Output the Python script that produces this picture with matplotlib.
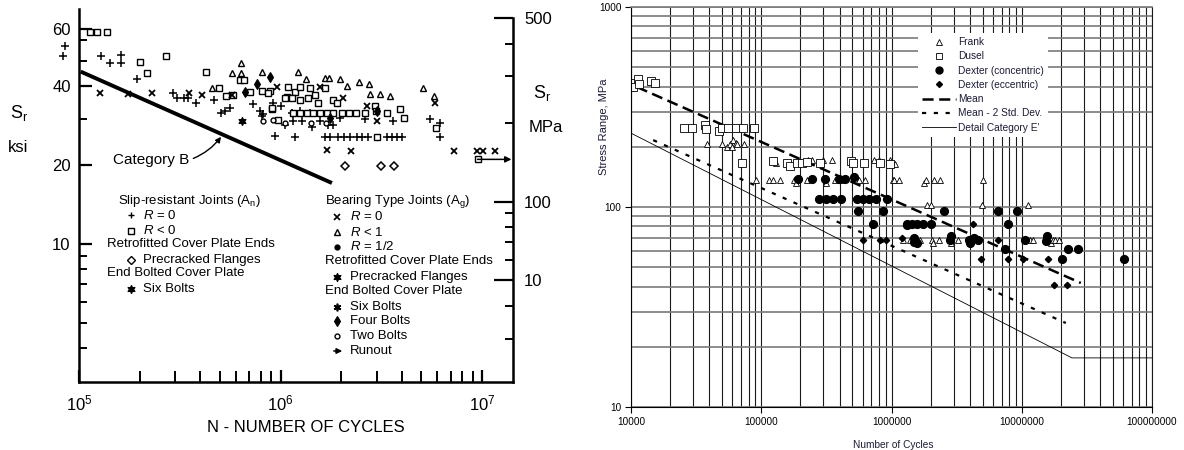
import matplotlib
matplotlib.use('Agg')
import matplotlib.pyplot as plt
from matplotlib.ticker import FixedLocator, FixedFormatter, NullFormatter, LogLocator
from matplotlib.lines import Line2D

plt.rcParams['font.family'] = ['Liberation Sans', 'DejaVu Sans']
plt.rcParams['mathtext.fontset'] = 'custom'
plt.rcParams['mathtext.rm'] = 'Liberation Sans'
plt.rcParams['mathtext.it'] = 'Liberation Sans:italic'
plt.rcParams['lines.scale_dashes'] = False

# ---------------- LEFT PANEL DATA (N cycles, S ksi) ----------------
slip_R0_N = [8.5e4, 8.3e4, 1.29e5, 1.43e5, 1.62e5, 1.62e5, 1.94e5, 2.93e5, 3.06e5, 3.32e5,
             3.47e5, 3.81e5, 4.67e5, 5.07e5, 5.3e5, 5.6e5, 7.3e5, 7.9e5, 8.1e5, 8.2e5,
             9.2e5, 9.4e5, 1.01e6, 1.05e6, 1.14e6, 1.15e6, 1.18e6, 1.25e6, 1.28e6, 1.40e6,
             1.43e6, 1.57e6, 1.66e6, 1.72e6, 1.76e6, 1.83e6, 1.93e6, 1.97e6, 2.06e6, 2.2e6,
             2.4e6, 2.54e6, 2.63e6, 2.73e6, 3.37e6, 3.57e6, 3.6e6, 3.77e6, 3.99e6, 5.5e6,
             6.2e6, 6.2e6]
slip_R0_S = [56.9, 52.2, 52.2, 48.9, 52.6, 48.9, 42.5, 37.6, 35.9, 35.9,
             35.9, 34.6, 35.3, 31.6, 32.2, 33.1, 34.3, 32.2, 30.8, 31.3,
             34.6, 25.7, 33.7, 28.3, 31.6, 29.5, 25.5, 32.2, 29.5, 31.6,
             27.8, 29.5, 25.5, 28.3, 25.5, 28.3, 25.5, 30.3, 25.5, 25.5,
             25.5, 25.5, 30.0, 25.5, 25.5, 25.5, 29.5, 25.5, 25.5, 30.0,
             29.0, 25.5]

slip_Rneg_N = [1.13e5, 1.23e5, 1.38e5, 2.7e5, 2.0e5, 2.17e5, 4.27e5, 6.28e5, 6.6e5, 4.95e5,
               5.36e5, 5.8e5, 8.1e5, 8.87e5, 9.1e5, 9.7e5, 1.08e6, 7.06e5, 8.7e5, 1.09e6,
               1.18e6, 1.25e6, 1.4e6, 1.48e6, 1.66e6, 1.83e6, 2.94e6, 2.97e6, 1.05e6, 1.14e6,
               1.25e6, 1.37e6, 1.53e6, 1.91e6, 1.15e6, 1.25e6, 1.35e6, 1.45e6, 1.57e6, 1.70e6,
               1.83e6, 2.02e6, 2.18e6, 2.37e6, 2.63e6, 3.37e6, 3.9e6, 4.08e6, 9.1e5, 3.0e6,
               5.9e6, 9.5e6]
slip_Rneg_S = [64.3, 64.3, 64.3, 52.2, 49.4, 44.9, 45.1, 42.2, 42.2, 39.3,
               36.6, 36.9, 38.3, 38.3, 32.8, 29.8, 36.3, 37.9, 37.6, 39.6,
               37.9, 39.6, 39.3, 36.9, 39.3, 35.3, 33.7, 32.2, 35.9, 35.9,
               35.3, 35.9, 34.6, 34.6, 31.6, 31.6, 31.6, 31.6, 31.6, 31.6,
               31.6, 31.6, 31.6, 31.6, 31.6, 31.6, 32.8, 30.3, 33.1, 25.5,
               27.6, 21.0]

slip_prec_N = [2.08e6, 3.17e6, 3.64e6]
slip_prec_S = [19.8, 19.8, 19.8]

bear_R0_N = [1.27e5, 1.75e5, 2.3e5, 3.52e5, 4.08e5, 5.74e5, 9.6e5, 1.7e6, 2.23e6, 7.3e6,
             9.4e6, 1.01e7, 1.16e7, 5.84e6, 2.04e6, 2.7e6, 3.0e6, 1.57e6]
bear_R0_S = [37.6, 37.2, 37.6, 37.6, 36.9, 36.9, 39.6, 22.8, 22.6, 22.6,
             22.6, 22.6, 22.6, 34.6, 35.9, 33.7, 29.5, 39.6]

bear_Rlt1_N = [6.36e5, 5.74e5, 6.36e5, 8.1e5, 4.57e5, 1.22e6, 1.66e6, 1.74e6, 1.97e6, 2.13e6,
               2.46e6, 2.76e6, 2.78e6, 3.1e6, 3.48e6, 5.1e6, 5.8e6, 1.34e6]
bear_Rlt1_S = [48.9, 44.9, 44.9, 45.1, 39.3, 45.1, 42.9, 42.9, 42.5, 40.0,
               41.4, 40.8, 37.2, 37.2, 36.6, 39.3, 36.6, 42.5]

bear_prec_N = [6.43e5]
bear_prec_S = [29.3]

bolt4_N = [8.87e5, 6.67e5, 7.64e5, 1.76e6, 3.0e6]
bolt4_S = [43.3, 37.9, 40.8, 30.3, 32.2]

bolt2_N = [8.2e5, 1.05e6, 1.42e6, 1.68e6, 9.2e5]
bolt2_S = [29.3, 29.0, 28.8, 28.8, 29.8]

runout_N = [9.5e6]
runout_S = [21.0]
runout_end_N = [1.4e7]

catB_N = [1.02e5, 1.8e6]
catB_S = [45.4, 17.06]

left_tick_pos = [10, 20, 40, 66]
left_tick_labels = ['10', '20', '40', '60']
left_minor = [4, 5, 6, 7, 8, 9, 30, 50, 60]
left_x_ticks = [1e5, 1e6, 1e7]
left_x_labels = ['$10^{5}$', '$10^{6}$', '$10^{7}$']
mpa_major = [500, 100, 50]
mpa_major_labels = ['500', '100', '10']
mpa_minor = [400, 300, 200, 90, 80, 70, 60, 40, 30]

# ---------------- RIGHT PANEL DATA (N cycles, S MPa) ----------------
frank_N = [3.83e4, 4.99e4, 5.45e4, 5.75e4, 5.95e4, 6.1e4, 6.4e4, 6.5e4, 7.4e4,
           9.1e4, 1.15e5, 1.23e5, 1.39e5, 1.78e5, 1.85e5, 2.24e5, 3.14e5, 3.68e5, 4.1e5,
           5.63e5, 6.25e5, 1.03e6, 1.05e6, 1.14e6, 1.77e6, 1.84e6, 2.11e6, 2.36e6, 5.02e6,
           1.3e5, 2.28e5, 2.45e5, 2.97e5, 3.49e5, 7.33e5, 8.0e5, 9.7e5, 1.06e6,
           1.87e6, 2.0e6, 4.94e6, 1.11e7,
           1.22e6, 1.38e6, 1.49e6, 1.65e6, 2.04e6, 2.08e6, 2.31e6, 2.8e6, 2.86e6, 3.24e6,
           1.15e7, 1.22e7, 1.67e7, 1.73e7, 1.80e7, 1.93e7]
frank_S = [207, 207, 200, 207, 200, 216, 209, 207, 207,
           136, 136, 136, 136, 136, 132, 136, 132, 136, 136,
           136, 136, 136, 136, 136, 132, 136, 136, 136, 136,
           166, 172, 172, 172, 172, 172, 172, 172, 164,
           102, 102, 102, 102,
           68, 68, 68, 68, 68, 66, 68, 68, 66, 68,
           68, 68, 66, 68, 68, 68]

dusel_N = [1.04e4, 1.13e4, 1.04e4, 1.15e4, 1.42e4, 1.53e4,
           2.55e4, 2.94e4, 3.7e4, 3.76e4, 4.73e4, 4.99e4, 5.55e4, 6.4e4, 7.2e4, 8.8e4,
           7.1e4, 1.23e5, 1.57e5, 1.66e5, 1.88e5, 2.05e5, 2.24e5, 2.82e5, 4.88e5, 5.1e5,
           6.14e5, 8.1e5, 9.7e5]
dusel_S = [417, 437, 398, 412, 427, 418,
           248, 248, 257, 245, 240, 248, 248, 248, 248, 248,
           166, 170, 166, 160, 166, 166, 168, 166, 170, 166,
           166, 166, 164]

dext_con_N = [1.91e5, 2.45e5, 3.08e5, 3.95e5, 4.39e5, 5.14e5,
              2.77e5, 3.14e5, 3.55e5, 4.1e5, 5.42e5, 6.03e5, 6.7e5, 7.58e5, 9.2e5,
              5.52e5, 8.6e5, 2.54e6, 6.6e6, 9.16e6,
              7.2e5, 1.31e6, 1.31e6, 1.43e6, 1.58e6, 1.76e6, 2.0e6, 7.9e6,
              1.49e6, 1.49e6, 1.58e6, 2.86e6, 2.83e6, 3.93e6, 4.0e6, 4.3e6, 4.6e6, 1.06e7,
              1.56e7, 1.53e7,
              7.41e6, 2.26e7, 2.72e7,
              2.05e7, 6.08e7]
dext_con_S = [138, 138, 138, 138, 138, 141,
              110, 110, 110, 110, 110, 110, 110, 110, 110,
              95.5, 95.5, 95.5, 95.5, 95.5,
              82.2, 82.2, 81.3, 82.2, 82.2, 82.2, 82.2, 82.2,
              70, 66.8, 66, 71.6, 68.4, 68.4, 66, 70, 68.4, 68.4,
              71.6, 67.6,
              61.7, 61.7, 61.7,
              55, 55]

dext_ecc_N = [6.03e5, 8.15e5, 9.06e5, 1.2e6, 4.2e6, 4.86e6, 6.56e6, 7.82e6, 1.02e7, 1.59e7,
              1.76e7, 2.22e7]
dext_ecc_S = [68.4, 68.4, 68.4, 70, 82, 55, 68.4, 55, 55, 55,
              40.7, 40.7]

mean_N = [1.11e4, 2.84e7]
mean_S = [398, 41.7]
m2sd_N = [1.48e4, 2.18e7]
m2sd_S = [216, 26.3]
catE_N = [1e4, 2.43e7, 1e8]
catE_S = [234, 17.6, 17.6]

right_x_ticks = [1e4, 1e5, 1e6, 1e7, 1e8]
right_x_labels = ['10000', '100000', '1000000', '10000000', '100000000']
right_y_ticks = [10, 100, 1000]
right_y_labels = ['10', '100', '1000']

# ---------------- FIGURE ----------------
W, H = 1184, 450
fig = plt.figure(figsize=(W / 100, H / 100), dpi=100)


def fx(p):
    return p / W


def fy(p):
    return 1 - p / H


# ======== LEFT PANEL ========
axL = fig.add_axes([fx(79), fy(382), fx(513) - fx(79), fy(9) - fy(382)])
axL.set_xscale('log')
axL.set_yscale('log')
axL.set_xlim(1e5, 1.425e7)
axL.set_ylim(2.97, 78.7)
axL.spines['top'].set_visible(False)
axL.spines['right'].set_visible(False)
for s in ['left', 'bottom']:
    axL.spines[s].set_linewidth(1.8)

axL.yaxis.set_major_locator(FixedLocator(left_tick_pos))
axL.yaxis.set_major_formatter(FixedFormatter(left_tick_labels))
axL.yaxis.set_minor_locator(FixedLocator(left_minor))
axL.yaxis.set_minor_formatter(NullFormatter())
axL.xaxis.set_major_locator(FixedLocator(left_x_ticks))
axL.xaxis.set_major_formatter(FixedFormatter(left_x_labels))
axL.xaxis.set_minor_locator(LogLocator(base=10, subs=[2, 3, 4, 5, 6, 7, 8, 9], numticks=20))
axL.xaxis.set_minor_formatter(NullFormatter())
axL.tick_params(axis='y', which='major', direction='in', length=9, width=1.6, labelsize=12, pad=6)
axL.tick_params(axis='y', which='minor', direction='in', length=6, width=1.4)
axL.tick_params(axis='x', which='major', direction='in', length=9, width=1.6, labelsize=12, pad=8)
axL.tick_params(axis='x', which='minor', direction='in', length=8, width=1.4)

axL2 = axL.twinx()
axL2.set_yscale('log')
lo, hi = axL.get_ylim()
axL2.set_ylim(lo * 6.895, hi * 6.895)
for s in ['left', 'top', 'bottom']:
    axL2.spines[s].set_visible(False)
axL2.spines['right'].set_linewidth(1.8)
axL2.spines['right'].set_bounds(lo * 6.895, 500)
axL2.yaxis.set_major_locator(FixedLocator(mpa_major))
axL2.yaxis.set_major_formatter(FixedFormatter(mpa_major_labels))
axL2.yaxis.set_minor_locator(FixedLocator(mpa_minor))
axL2.yaxis.set_minor_formatter(NullFormatter())
axL2.tick_params(axis='y', which='major', direction='in', length=14, width=1.6, labelsize=12, pad=8)
axL2.tick_params(axis='y', which='minor', direction='in', length=6, width=1.4)

mk = dict(ls='none', color='k', clip_on=False)
axL.plot(slip_R0_N, slip_R0_S, marker='+', ms=5.5, mew=1.1, **mk)
axL.plot(slip_Rneg_N, slip_Rneg_S, marker='s', ms=4.5, mew=1.0, mfc='white', **mk)
axL.plot(slip_prec_N, slip_prec_S, marker='D', ms=4.2, mew=1.1, mfc='white', **mk)
axL.plot(bear_R0_N, bear_R0_S, marker='x', ms=5, mew=1.3, **mk)
axL.plot(bear_Rlt1_N, bear_Rlt1_S, marker='^', ms=5, mew=1.0, mfc='white', **mk)
axL.plot(bear_prec_N, bear_prec_S, marker=(6, 1, 0), ms=6, mew=0.8, **mk)
axL.plot(bolt4_N, bolt4_S, marker='d', ms=5, mew=0.8, **mk)
axL.plot(bolt2_N, bolt2_S, marker='o', ms=3.5, mew=1.0, mfc='white', **mk)
for n0, s0, n1 in zip(runout_N, runout_S, runout_end_N):
    axL.annotate('', xy=(n1, s0), xytext=(n0, s0),
                 arrowprops=dict(arrowstyle='-|>', lw=1.1, color='k', mutation_scale=9,
                                 shrinkA=0, shrinkB=0), annotation_clip=False)

axL.plot(catB_N, catB_S, color='k', lw=2.8, solid_capstyle='butt')
axL.annotate('Category B', xy=(5.07e5, 25.6), xycoords='data',
             xytext=(fx(113), fy(160)), textcoords='figure fraction',
             ha='left', va='center', fontsize=11,
             arrowprops=dict(arrowstyle='-|>', connectionstyle='arc3,rad=0.15', lw=1.0,
                             color='k', mutation_scale=8, shrinkA=1, shrinkB=0,
                             relpos=(1.0, 0.5)))

fig.text(fx(10), fy(113), 'S$_\\mathrm{r}$', fontsize=13, ha='left', va='center')
fig.text(fx(8), fy(148), 'ksi', fontsize=12, ha='left', va='center')
fig.text(fx(533), fy(93), 'S$_\\mathrm{r}$', fontsize=13, ha='left', va='center')
fig.text(fx(529), fy(128), 'MPa', fontsize=12, ha='left', va='center')
fig.text(fx(306), fy(427), 'N - NUMBER OF CYCLES', fontsize=12, ha='center', va='center')


def sym(x, y, **kw):
    fig.add_artist(Line2D([fx(x)], [fy(y)], transform=fig.transFigure, ls='none', color='k', **kw))


lfs = 9.5
left_entries = [
    ('Slip-resistant Joints (A$_\\mathrm{n}$)', 118, 201),
    ('$\\it{R}$ = 0', 143, 215),
    ('$\\it{R}$ < 0', 143, 231),
    ('Retrofitted Cover Plate Ends', 107, 244),
    ('Precracked Flanges', 143, 260),
    ('End Bolted Cover Plate', 107, 273),
    ('Six Bolts', 143, 289),
]
for t, x, y in left_entries:
    fig.text(fx(x), fy(y), t, fontsize=lfs, ha='left', va='center')
sym(131, 215, marker='+', ms=5, mew=1.0)
sym(131, 231, marker='s', ms=4, mew=1.0, mfc='white')
sym(131, 260, marker='D', ms=4, mew=1.0, mfc='white')
sym(131, 289, marker=(6, 1, 0), ms=6, mew=0.8)

right_entries = [
    ('Bearing Type Joints (A$_\\mathrm{g}$)', 325, 202),
    ('$\\it{R}$ = 0', 350, 217),
    ('$\\it{R}$ < 1', 350, 232),
    ('$\\it{R}$ = 1/2', 350, 247),
    ('Retrofitted Cover Plate Ends', 325, 261),
    ('Precracked Flanges', 350, 277),
    ('End Bolted Cover Plate', 325, 291),
    ('Six Bolts', 350, 307),
    ('Four Bolts', 350, 321),
    ('Two Bolts', 350, 336),
    ('Runout', 350, 351),
]
for t, x, y in right_entries:
    fig.text(fx(x), fy(y), t, fontsize=lfs, ha='left', va='center')
sym(337, 217, marker='x', ms=4.5, mew=1.2)
sym(337, 232, marker='^', ms=4.5, mew=1.0, mfc='white')
sym(337, 247, marker='o', ms=3.5, mew=1.0)
sym(337, 277, marker=(6, 1, 0), ms=6, mew=0.8)
sym(337, 307, marker=(6, 2, 0), ms=5.5, mew=1.2)
sym(337, 321, marker='d', ms=5, mew=0.8)
sym(337, 336, marker='o', ms=3.5, mew=1.0, mfc='white')
fig.add_artist(matplotlib.patches.FancyArrowPatch((fx(331), fy(351)), (fx(345), fy(351)),
                                                  transform=fig.transFigure, arrowstyle='-|>',
                                                  mutation_scale=8, lw=1.1, color='k'))

# ======== RIGHT PANEL ========
axR = fig.add_axes([fx(631), fy(407), fx(1152) - fx(631), fy(7) - fy(407)])
axR.set_xscale('log')
axR.set_yscale('log')
axR.set_xlim(1e4, 1e8)
axR.set_ylim(10, 1000)
axR.xaxis.set_minor_locator(LogLocator(base=10, subs=[2, 3, 4, 5, 6, 7, 8, 9], numticks=20))
axR.yaxis.set_minor_locator(LogLocator(base=10, subs=[2, 3, 4, 5, 6, 7, 8, 9], numticks=20))
axR.xaxis.set_minor_formatter(NullFormatter())
axR.yaxis.set_minor_formatter(NullFormatter())
axR.xaxis.set_major_locator(FixedLocator(right_x_ticks))
axR.xaxis.set_major_formatter(FixedFormatter(right_x_labels))
axR.yaxis.set_major_locator(FixedLocator(right_y_ticks))
axR.yaxis.set_major_formatter(FixedFormatter(right_y_labels))
axR.xaxis.grid(True, which='both', color='#1a1a1a', lw=0.8)
axR.yaxis.grid(True, which='both', color='#7a7a7a', lw=1.2)
axR.tick_params(which='major', direction='out', length=4, width=0.8, labelsize=7.2, pad=3)
axR.tick_params(which='minor', length=0)
axR.spines['left'].set_linewidth(0.8)
axR.spines['bottom'].set_linewidth(0.8)
axR.spines['right'].set_color('#1a1a1a')
axR.spines['right'].set_linewidth(0.8)
axR.spines['top'].set_color('#7a7a7a')
axR.spines['top'].set_linewidth(1.2)

axR.plot(catE_N, catE_S, color='k', lw=0.6)
axR.plot(m2sd_N, m2sd_S, color='k', lw=1.6, ls=(0, (3.0, 5.5)))
axR.plot(mean_N, mean_S, color='k', lw=1.8, ls=(0, (8.0, 4.0)))
axR.plot(frank_N, frank_S, ls='none', marker='^', ms=5, mew=0.6, mfc='white', mec='k')
axR.plot(dusel_N, dusel_S, ls='none', marker='s', ms=5.5, mew=0.6, mfc='white', mec='k')
axR.plot(dext_con_N, dext_con_S, ls='none', marker='o', ms=5.6, color='k')
axR.plot(dext_ecc_N, dext_ecc_S, ls='none', marker='D', ms=3.2, color='k')

tcol = '#1b1b3a'
handles = [
    Line2D([], [], ls='none', marker='^', ms=4.5, mew=0.6, mfc='white', mec='k', label='Frank'),
    Line2D([], [], ls='none', marker='s', ms=4.5, mew=0.6, mfc='white', mec='k', label='Dusel'),
    Line2D([], [], ls='none', marker='o', ms=5, color='k', label='Dexter (concentric)'),
    Line2D([], [], ls='none', marker='D', ms=3, color='k', label='Dexter (eccentric)'),
    Line2D([], [], color='k', lw=1.8, ls=(0, (8.0, 4.0)), label='Mean'),
    Line2D([], [], color='k', lw=1.6, ls=(0, (3.0, 5.5)), label='Mean - 2 Std. Dev.'),
    Line2D([], [], color='k', lw=0.6, label="Detail Category E'"),
]
leg = axR.legend(handles=handles, loc='upper left', bbox_to_anchor=(0.551, 0.935),
                 borderaxespad=0, fontsize=7.3, frameon=True, fancybox=False,
                 facecolor='white', edgecolor='none', framealpha=1,
                 handlelength=3.3, handletextpad=0.25, labelspacing=0.42, borderpad=0.4)
for t in leg.get_texts():
    t.set_color(tcol)

fig.text(fx(604), fy(127), 'Stress Range, MPa', fontsize=8, rotation=90,
         ha='center', va='center', color=tcol)
fig.text(fx(893), fy(445), 'Number of Cycles', fontsize=7.3, ha='center', va='center', color=tcol)

fig.savefig('out.png', dpi=100)
